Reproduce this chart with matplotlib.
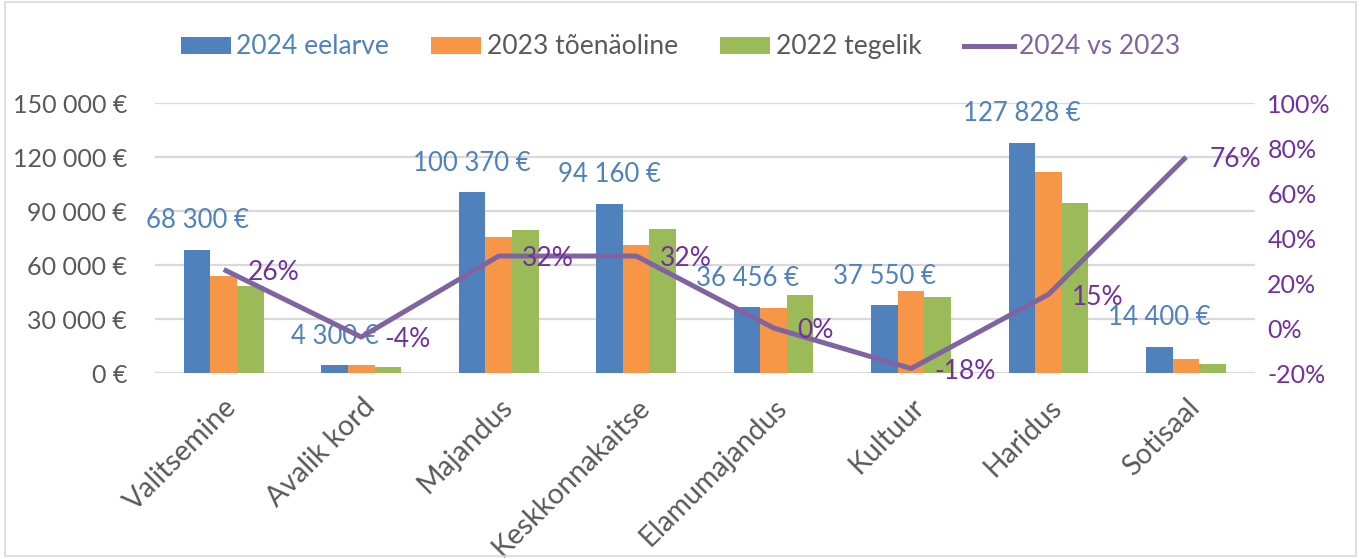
import matplotlib
matplotlib.use("Agg")
import matplotlib.pyplot as plt
import numpy as np
from matplotlib.patches import Rectangle, Patch
from matplotlib.lines import Line2D
from matplotlib.ticker import FuncFormatter

plt.rcParams['font.family'] = ['Lato', 'DejaVu Sans']

categories = ["Valitsemine", "Avalik kord", "Majandus", "Keskkonnakaitse",
              "Elamumajandus", "Kultuur", "Haridus", "Sotisaal"]
budget_2024 = [68300, 4300, 100370, 94160, 36456, 37550, 127828, 14400]
likely_2023 = [54100, 4500, 75600, 71000, 36300, 45400, 111500, 8000]
actual_2022 = [48600, 3200, 79500, 79800, 43200, 42400, 94300, 5200]
change_pct = [26, -4, 32, 32, 0, -18, 15, 76]
series_names = ["2024 eelarve", "2023 tõenäoline", "2022 tegelik", "2024 vs 2023"]
left_ticks = [0, 30000, 60000, 90000, 120000, 150000]
right_ticks = [-20, 0, 20, 40, 60, 80, 100]

C_BLUE = "#4F81BD"
C_ORANGE = "#F79646"
C_GREEN = "#9BBB59"
C_LINE = "#8064A2"
C_PURPLE_TXT = "#7030A0"
C_GRAY = "#595959"
FS_TICK = 18
FS_XLAB = 20.5
FS_LEG = 19
FS_LAB = 18.5
FS_PCT = 19

def eur(v, pos=None):
    return f"{int(v):,}".replace(",", " ") + " €"

fig = plt.figure(figsize=(13.61, 5.59), dpi=100)
fig.add_artist(Rectangle((0.004, 0.006), 0.992, 0.99, transform=fig.transFigure,
                         fill=False, edgecolor="#D9D9D9", linewidth=1.2))
ax = fig.add_axes([0.1139, 0.3327, 0.922 - 0.1139, 0.8157 - 0.3327])
ax2 = ax.twinx()

x = np.arange(len(categories))
w = 0.193
ax.bar(x - w, budget_2024, w, color=C_BLUE, zorder=3)
ax.bar(x, likely_2023, w, color=C_ORANGE, zorder=3)
ax.bar(x + w, actual_2022, w, color=C_GREEN, zorder=3)

ax.set_xlim(-0.5, len(categories) - 0.5)
ax.set_ylim(0, 150000)
ax.set_yticks(left_ticks)
ax.yaxis.set_major_formatter(FuncFormatter(eur))
ax.grid(axis="y", color="#D9D9D9", linewidth=1.6, zorder=0)
ax.set_axisbelow(True)
for s in ax.spines.values():
    s.set_visible(False)
for s in ax2.spines.values():
    s.set_visible(False)
ax.tick_params(axis="y", length=0, pad=20, labelsize=FS_TICK, labelcolor=C_GRAY)
ax.tick_params(axis="x", length=0, pad=15)
ax.set_xticks(x)
ax.set_xticklabels(categories, rotation=45, ha="right", rotation_mode="anchor",
                   fontsize=FS_XLAB, color=C_GRAY)

for xi, v in zip(x, budget_2024):
    ax.annotate(eur(v), (xi - w, v), xytext=(0, 21), textcoords="offset points",
                ha="center", va="center", fontsize=FS_LAB, color=C_BLUE, zorder=5)

ax2.plot(x, change_pct, color=C_LINE, linewidth=3.6, zorder=4, solid_capstyle="butt")
ax2.set_ylim(-20, 100)
ax2.set_yticks(right_ticks)
ax2.yaxis.set_major_formatter(FuncFormatter(lambda v, p: f"{int(v)}%"))
ax2.tick_params(axis="y", length=0, pad=9, labelsize=FS_TICK, labelcolor=C_PURPLE_TXT)
for xi, v in zip(x, change_pct):
    ax2.annotate(f"{v}%", (xi, v), xytext=(17, -2), textcoords="offset points",
                 ha="left", va="center", fontsize=FS_PCT, color=C_PURPLE_TXT, zorder=6)

handles = [Patch(facecolor=C_BLUE), Patch(facecolor=C_ORANGE), Patch(facecolor=C_GREEN),
           Line2D([0], [0], color=C_LINE, linewidth=3.6)]
leg = fig.legend(handles, series_names, loc="center", bbox_to_anchor=(0.5, 0.916),
                 ncol=4, frameon=False, fontsize=FS_LEG, handlelength=1.9, handleheight=0.6,
                 handletextpad=0.2, columnspacing=1.6)
for t, c in zip(leg.get_texts(), [C_BLUE, C_GRAY, C_GRAY, C_LINE]):
    t.set_color(c)

fig.savefig("out.png", dpi=100)
